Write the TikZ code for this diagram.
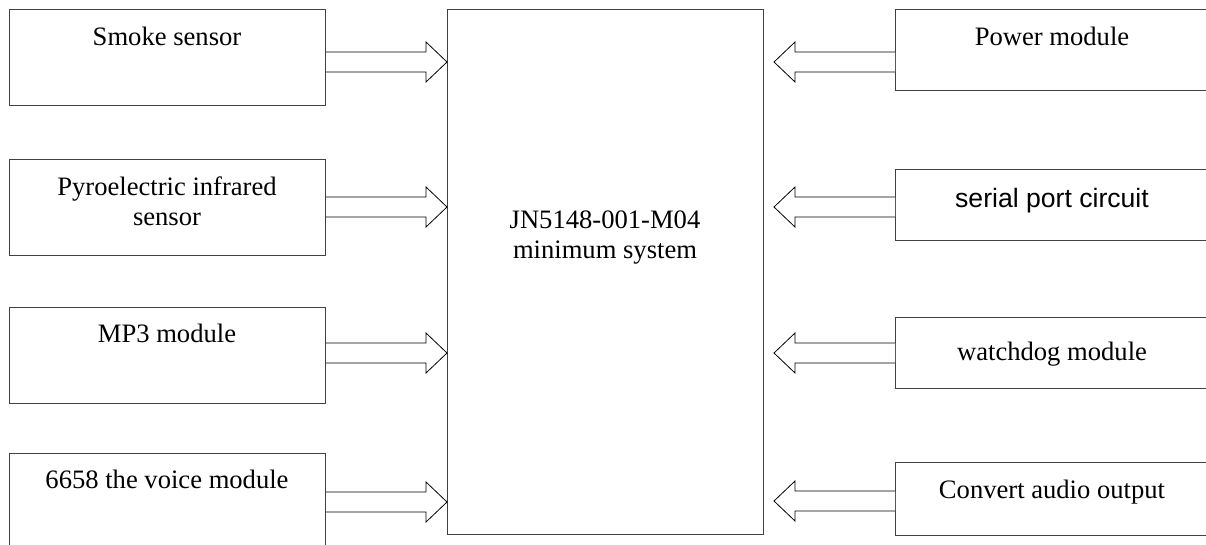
\documentclass[tikz,border=0pt]{standalone}
\usepackage{fontspec}
\setmainfont{Liberation Serif}
\newfontfamily\sansf{Liberation Sans}
\usetikzlibrary{calc}
\tikzset{
  box/.style={draw=black!75, line width=1pt, rectangle, inner sep=0pt, anchor=north west},
  lbl/.style={inner sep=0pt, anchor=base, font=\fontsize{26.6}{30}\selectfont},
  arr/.style={draw=black, line width=0.8pt, fill=white},
}
% block arrow: #1 tail point (x used), #2 tip point
\newcommand\blockToRight[2]{%
  \draw[arr] let \p1=(#1), \p2=(#2) in
    (\x1,\y2+10pt) -- (\x2-21pt,\y2+10pt) -- (\x2-21pt,\y2+20pt) -- (\x2,\y2)
    -- (\x2-21pt,\y2-20pt) -- (\x2-21pt,\y2-10pt) -- (\x1,\y2-10pt);}
\newcommand\blockToLeft[2]{%
  \draw[arr] let \p1=(#1), \p2=(#2) in
    (\x1,\y2+10pt) -- (\x2+21pt,\y2+10pt) -- (\x2+21pt,\y2+20pt) -- (\x2,\y2)
    -- (\x2+21pt,\y2-20pt) -- (\x2+21pt,\y2-10pt) -- (\x1,\y2-10pt);}
\begin{document}
\begin{tikzpicture}[x=1pt,y=-1pt]
\useasboundingbox (0,0) rectangle (1206,544);
\clip (0,0) rectangle (1206,544);
% central box
\node[box, minimum width=316pt, minimum height=525pt] (mcu) at (447,9) {};
\node[lbl] (mcut1) at (605,228) {JN5148-001-M04};
\node[lbl] (mcut2) at (605,258) {minimum system};
% left boxes
\node[box, minimum width=316pt, minimum height=96pt] (smoke) at (9,9) {};
\node[lbl] (smoket) at (167,45) {Smoke sensor};
\node[box, minimum width=316pt, minimum height=96pt] (pyro) at (9,159) {};
\node[lbl] (pyrot1) at (167,195) {Pyroelectric infrared};
\node[lbl] (pyrot2) at (167,225) {sensor};
\node[box, minimum width=316pt, minimum height=96pt] (mp3) at (9,307) {};
\node[lbl] (mp3t) at (167,342) {MP3 module};
\node[box, minimum width=316pt, minimum height=100pt] (voice) at (9,453) {};
\node[lbl] (voicet) at (167,488) {6658 the voice module};
% right boxes
\node[box, minimum width=315pt, minimum height=81pt] (power) at (895,9) {};
\node[lbl] (powert) at (1052,45) {Power module};
\node[box, minimum width=315pt, minimum height=71pt] (serial) at (895,169) {};
\node[lbl, font=\sansf\fontsize{26.6}{30}\selectfont] (serialt) at (1052,207) {serial port circuit};
\node[box, minimum width=315pt, minimum height=71pt] (wdog) at (895,317) {};
\node[lbl] (wdogt) at (1052,360) {watchdog module};
\node[box, minimum width=315pt, minimum height=73pt] (audio) at (895,462) {};
\node[lbl] (audiot) at (1052,498) {Convert audio output};
% tip coordinates
\coordinate (tl1) at (mcu.west |- 0,62);
\coordinate (tl2) at (mcu.west |- 0,207);
\coordinate (tl3) at (mcu.west |- 0,353);
\coordinate (tl4) at (mcu.west |- 0,502);
\coordinate (tr1) at ([xshift=10pt]mcu.east |- 0,62);
\coordinate (tr2) at ([xshift=10pt]mcu.east |- 0,207);
\coordinate (tr3) at ([xshift=10pt]mcu.east |- 0,353);
\coordinate (tr4) at ([xshift=10pt]mcu.east |- 0,501);
% arrows
\blockToRight{smoke.east}{tl1}
\blockToRight{pyro.east}{tl2}
\blockToRight{mp3.east}{tl3}
\blockToRight{voice.east}{tl4}
\blockToLeft{power.west}{tr1}
\blockToLeft{serial.west}{tr2}
\blockToLeft{wdog.west}{tr3}
\blockToLeft{audio.west}{tr4}
\end{tikzpicture}
\end{document}
